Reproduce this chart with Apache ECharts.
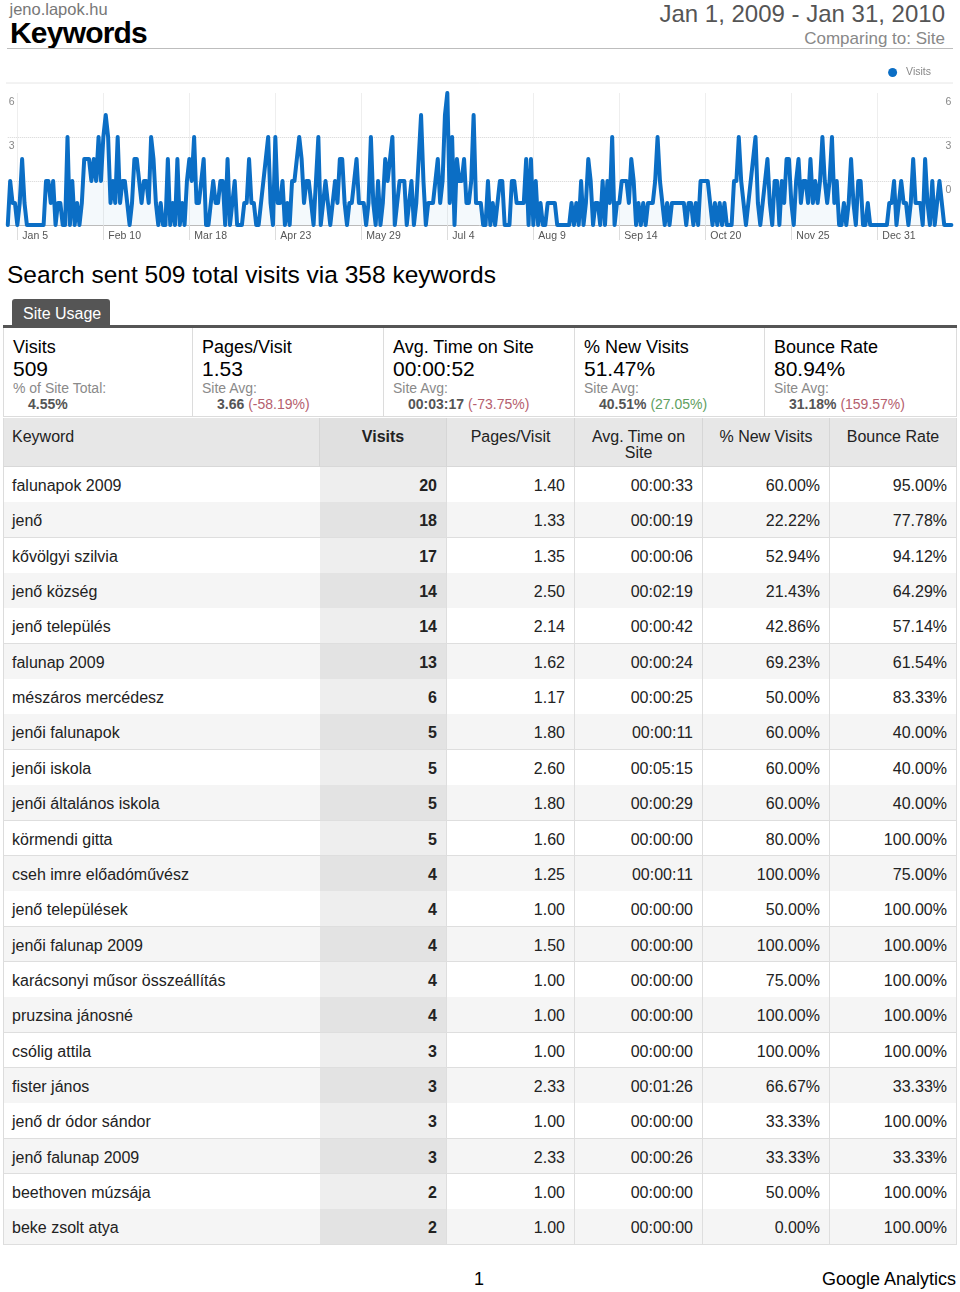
<!DOCTYPE html>
<html>
<head>
<meta charset="utf-8">
<script src="https://cdn.jsdelivr.net/npm/echarts@6.0.0/dist/echarts.min.js"></script>
<style>
  html, body { margin:0; padding:0; background:#fff; }
  body { width:960px; height:1292px; position:relative; overflow:hidden; font-family:"Liberation Sans", Arial, Helvetica, sans-serif; color:#000; }
  .abs { position:absolute; white-space:nowrap; }
  .box { position:absolute; top:328px; height:89px; border-right:1px solid #dcdcdc; border-bottom:1px solid #dcdcdc; box-sizing:border-box; }
  .cell { position:absolute; top:0; box-sizing:border-box; white-space:nowrap; font-size:16px; color:#222; }
</style>
</head>
<body>
<div class="abs" style="left:9.5px;top:0.5px;font-size:16.5px;line-height:16px;color:#777;">jeno.lapok.hu</div>
<div class="abs" style="left:10px;top:19px;font-size:30px;line-height:28px;font-weight:bold;letter-spacing:-0.8px;">Keywords</div>
<div class="abs" style="right:15px;top:0px;font-size:24px;line-height:28px;color:#555;">Jan 1, 2009 - Jan 31, 2010</div>
<div class="abs" style="right:15px;top:29px;font-size:17px;line-height:20px;color:#888;">Comparing to: Site</div>
<div class="abs" style="left:7px;top:48px;width:946px;height:1px;background:#bdbdbd;"></div>

<div id="chart" class="abs" style="left:0;top:55px;width:960px;height:200px;"></div>

<div class="abs" style="left:7px;top:261px;font-size:24.5px;line-height:28px;">Search sent 509 total visits via 358 keywords</div>
<div class="abs" style="left:12px;top:299px;width:98px;height:24px;padding-top:2px;background:#555;border-radius:3px 3px 0 0;color:#fff;font-size:16px;line-height:26px;"><span style="padding-left:11px;">Site Usage</span></div>
<div class="abs" style="left:3px;top:325px;width:954px;height:3px;background:#555;"></div>

<div id="summary"></div>
<div id="table"></div>

<div class="abs" style="left:474px;top:1269px;font-size:18px;line-height:20px;">1</div>
<div class="abs" style="right:4px;top:1269px;font-size:18px;line-height:20px;">Google Analytics</div>

<script>
// ---------------- chart data ----------------
const startDate = '2009-01-01';
const dailyVisits = [
  0,2,1,1,0,1,3,1,0,0,
  0,0,0,0,0,0,2,2,1,2,
  0,1,1,0,0,4,0,2,0,1,
  0,1,3,3,3,2,3,2,4,2,
  4,5,4,1,2,1,4,1,2,2,
  1,0,1,3,3,2,1,2,2,1,
  4,3,1,0,1,0,0,3,0,1,
  0,3,0,1,0,2,3,2,4,1,
  1,2,3,0,0,1,2,1,1,2,
  2,0,3,0,1,2,0,0,0,1,
  1,3,1,1,0,0,1,2,3,4,
  1,0,4,1,1,2,0,1,0,2,
  2,3,4,3,1,2,2,1,0,2,
  4,0,1,2,1,0,1,2,1,3,
  3,1,0,1,1,2,3,1,1,1,
  0,1,4,1,0,2,0,1,3,2,
  3,4,0,1,2,2,2,0,1,2,
  0,1,3,5,2,0,1,1,1,2,
  3,1,2,5,6,1,4,0,3,2,
  2,3,1,1,2,5,1,1,1,0,
  0,2,0,1,0,1,2,2,0,0,
  0,2,2,1,1,1,1,3,0,3,
  0,2,0,1,0,0,1,1,1,1,
  0,0,0,0,0,0,1,0,1,0,
  2,0,1,3,2,0,1,1,0,2,
  0,2,1,4,0,1,1,2,2,2,
  1,3,2,0,1,0,1,0,1,1,
  1,2,4,2,1,0,1,0,1,1,
  1,1,1,1,0,1,1,0,1,0,
  2,2,2,2,1,0,1,0,1,0,
  1,0,0,0,2,2,4,2,1,0,
  1,2,3,4,1,0,1,2,3,1,
  0,2,2,0,2,1,3,3,1,0,
  2,3,1,2,2,1,3,1,2,1,
  2,4,2,1,2,4,1,2,0,0,
  1,0,1,3,1,0,2,2,0,0,
  1,0,0,0,0,0,0,0,0,1,
  1,2,0,1,2,1,1,0,1,3,
  1,1,1,0,3,1,0,2,0,1,
  2,1,0,0,0,0
];
const xTickDates = ['2009-01-05','2009-02-10','2009-03-18','2009-04-23','2009-05-29','2009-07-04','2009-08-09','2009-09-14','2009-10-20','2009-11-25','2009-12-31'];
const xTickLabels = ['Jan 5','Feb 10','Mar 18','Apr 23','May 29','Jul 4','Aug 9','Sep 14','Oct 20','Nov 25','Dec 31'];
const yTickValues = [0, 2, 4, 6];
const yLeftLabels = ['', '', '3', '6'];
const yRightLabels = ['', '0', '3', '6'];
const seriesName = 'Visits';

// ---------------- summary data ----------------
const summaryTitles = ['Visits','Pages/Visit','Avg. Time on Site','% New Visits','Bounce Rate'];
const summaryValues = ['509','1.53','00:00:52','51.47%','80.94%'];
const summaryLabels = ['% of Site Total:','Site Avg:','Site Avg:','Site Avg:','Site Avg:'];
const summaryAvgs = ['4.55%','3.66','00:03:17','40.51%','31.18%'];
const summaryChanges = ['','(-58.19%)','(-73.75%)','(27.05%)','(159.57%)'];
const summaryChangeGood = [null,false,false,true,false];

// ---------------- table data ----------------
const tableHeaders = ['Keyword','Visits','Pages/Visit','Avg. Time on\nSite','% New Visits','Bounce Rate'];
const keywords = ['falunapok 2009','jenő','kővölgyi szilvia','jenő község','jenő település','falunap 2009','mészáros mercédesz','jenői falunapok','jenői iskola','jenői általános iskola','körmendi gitta','cseh imre előadóművész','jenő települések','jenői falunap 2009','karácsonyi műsor összeállítás','pruzsina jánosné','csólig attila','fister jános','jenő dr ódor sándor','jenő falunap 2009','beethoven múzsája','beke zsolt atya'];
const visits = [20,18,17,14,14,13,6,5,5,5,5,4,4,4,4,4,3,3,3,3,2,2];
const pagesPerVisit = ['1.40','1.33','1.35','2.50','2.14','1.62','1.17','1.80','2.60','1.80','1.60','1.25','1.00','1.50','1.00','1.00','1.00','2.33','1.00','2.33','1.00','1.00'];
const avgTime = ['00:00:33','00:00:19','00:00:06','00:02:19','00:00:42','00:00:24','00:00:25','00:00:11','00:05:15','00:00:29','00:00:00','00:00:11','00:00:00','00:00:00','00:00:00','00:00:00','00:00:00','00:01:26','00:00:00','00:00:26','00:00:00','00:00:00'];
const newVisits = ['60.00%','22.22%','52.94%','21.43%','42.86%','69.23%','50.00%','60.00%','60.00%','60.00%','80.00%','100.00%','50.00%','100.00%','75.00%','100.00%','100.00%','66.67%','33.33%','33.33%','50.00%','0.00%'];
const bounceRate = ['95.00%','77.78%','94.12%','64.29%','57.14%','61.54%','83.33%','40.00%','40.00%','40.00%','100.00%','75.00%','100.00%','100.00%','100.00%','100.00%','100.00%','33.33%','100.00%','33.33%','100.00%','100.00%'];

// ---------------- chart ----------------
const categories = [];
(function(){
  const p = startDate.split('-').map(Number);
  const t0 = Date.UTC(p[0], p[1]-1, p[2]);
  for (let i = 0; i < dailyVisits.length; i++) {
    categories.push(new Date(t0 + i*86400000).toISOString().slice(0,10));
  }
})();
const isTick = (i) => xTickDates.indexOf(categories[i]) >= 0;
const FONT = '"Liberation Sans", Arial, sans-serif';
const LINE = '#0b6ec5';

const chart = echarts.init(document.getElementById('chart'), null, {renderer:'canvas'});
chart.setOption({
  animation:false,
  legend:{
    data:[seriesName], right:29, top:12, padding:0,
    icon:'circle', itemWidth:9, itemHeight:9,
    textStyle:{fontSize:10.5, color:'#888', fontFamily:FONT, padding:[0,0,0,4]}
  },
  graphic:[{
    type:'line', shape:{x1:6, y1:28, x2:953, y2:28}, style:{stroke:'#e6e6e6', lineWidth:1}, silent:true
  }],
  grid:{left:7.78, right:8.6, top:38, bottom:30, containLabel:false},
  xAxis:{
    type:'category', data:categories, boundaryGap:false,
    axisLine:{lineStyle:{color:'#bbb', width:1}},
    axisTick:{show:true, interval:(i)=>isTick(i), length:15, lineStyle:{color:'#ddd'}},
    axisLabel:{
      interval:(i)=>isTick(i), align:'left', padding:[0,0,0,5], margin:6,
      fontSize:10.5, color:'#555', fontFamily:FONT,
      formatter:(v)=>{ const k = xTickDates.indexOf(v); return k >= 0 ? xTickLabels[k] : ''; }
    },
    splitLine:{show:true, interval:(i)=>isTick(i), lineStyle:{color:'#eee', width:1}}
  },
  yAxis:[{
    type:'value', min:0, max:6, interval:2, position:'left',
    axisLine:{show:false}, axisTick:{show:false},
    axisLabel:{inside:true, margin:1, verticalAlign:'top', padding:[4,0,0,0], fontSize:10.5, color:'#888', fontFamily:FONT,
      formatter:(v)=>{ const k = yTickValues.indexOf(v); return k >= 0 ? yLeftLabels[k] : ''; }},
    splitLine:{show:true, lineStyle:{type:'dotted', width:1, color:['rgba(0,0,0,0)','#d5d5d5','#d5d5d5','rgba(0,0,0,0)']}}
  },{
    type:'value', min:0, max:6, interval:2, position:'right',
    axisLine:{show:false}, axisTick:{show:false},
    axisLabel:{inside:true, margin:0, verticalAlign:'top', padding:[4,0,0,0], fontSize:10.5, color:'#888', fontFamily:FONT,
      formatter:(v)=>{ const k = yTickValues.indexOf(v); return k >= 0 ? yRightLabels[k] : ''; }},
    splitLine:{show:false}
  }],
  series:[{
    name:seriesName, type:'line', data:dailyVisits, yAxisIndex:0,
    symbol:'none', showSymbol:false,
    lineStyle:{width:4, color:LINE, join:'round', cap:'round'},
    itemStyle:{color:LINE},
    areaStyle:{color:'rgba(11,110,197,0.06)'}
  }]
});

// ---------------- summary boxes ----------------
(function(){
  const edges = [3,193,384,575,765,957];
  const host = document.getElementById('summary');
  for (let i = 0; i < summaryTitles.length; i++) {
    const b = document.createElement('div');
    b.className = 'box';
    b.style.left = edges[i] + 'px';
    b.style.width = (edges[i+1] - edges[i]) + 'px';
    if (i === 0) b.style.borderLeft = '1px solid #dcdcdc';
    const pad = 9;
    let html = '';
    html += `<div class="abs" style="left:${pad}px;top:9px;font-size:18px;line-height:20px;color:#000;">${summaryTitles[i]}</div>`;
    html += `<div class="abs" style="left:${pad}px;top:30px;font-size:21px;line-height:22px;color:#000;">${summaryValues[i]}</div>`;
    html += `<div class="abs" style="left:${pad}px;top:52px;font-size:14px;line-height:16px;color:#8a8a8a;">${summaryLabels[i]}</div>`;
    let sub = `<span style="font-weight:bold;color:#555;">${summaryAvgs[i]}</span>`;
    if (summaryChanges[i]) {
      const col = summaryChangeGood[i] ? '#5fa05f' : '#b5606e';
      sub += ` <span style="color:${col};">${summaryChanges[i]}</span>`;
    }
    html += `<div class="abs" style="left:${pad+15}px;top:68.4px;font-size:14px;line-height:16px;">${sub}</div>`;
    b.innerHTML = html;
    host.appendChild(b);
  }
})();

// ---------------- table ----------------
(function(){
  const host = document.getElementById('table');
  const edges = [3,320,447,575,703,830,957];
  const headerTop = 418, headerH = 49, rowTop = 467, rowH = 35.35;
  const hr = document.createElement('div');
  hr.className = 'abs';
  hr.style.cssText = `left:0;top:${headerTop}px;width:960px;height:${headerH}px;`;
  for (let c = 0; c < 6; c++) {
    const d = document.createElement('div');
    d.className = 'cell';
    const w = edges[c+1] - edges[c];
    d.style.cssText += `left:${edges[c]}px;width:${w}px;height:${headerH}px;background:${c===1?'#e0e0e0':'#e7e7e7'};` +
      `border-right:1px solid ${c===5?'#dcdcdc':'#d6d6d6'};border-bottom:1px solid #d8d8d8;${c===0?'border-left:1px solid #dcdcdc;':''}` +
      `padding-top:11px;line-height:16px;white-space:pre-line;` +
      (c===0 ? 'text-align:left;padding-left:8px;' : 'text-align:center;') +
      (c===1 ? 'font-weight:bold;' : '');
    d.textContent = tableHeaders[c];
    hr.appendChild(d);
  }
  host.appendChild(hr);
  for (let r = 0; r < keywords.length; r++) {
    const top = rowTop + rowH * r;
    const even = r % 2 === 1;
    const vals = [keywords[r], String(visits[r]), pagesPerVisit[r], avgTime[r], newVisits[r], bounceRate[r]];
    for (let c = 0; c < 6; c++) {
      const d = document.createElement('div');
      d.className = 'cell';
      const w = edges[c+1] - edges[c];
      let bg = even ? '#f5f5f5' : '#ffffff';
      if (c === 1) bg = even ? '#e3e3e3' : '#eeeeee';
      d.style.cssText += `left:${edges[c]}px;top:${top}px;width:${w}px;height:${rowH+0.5}px;background:${bg};` +
        `line-height:${rowH}px;padding-top:1px;border-bottom:1px solid #dedede;` +
        (c===0 ? 'border-left:1px solid #dcdcdc;padding-left:8px;text-align:left;' : 'text-align:right;padding-right:9px;') +
        (c>=1 ? 'border-right:1px solid #dedede;' : '') +
        (c===1 ? 'font-weight:bold;' : '');
      d.textContent = vals[c];
      host.appendChild(d);
    }
  }
})();
</script>
</body>
</html>
